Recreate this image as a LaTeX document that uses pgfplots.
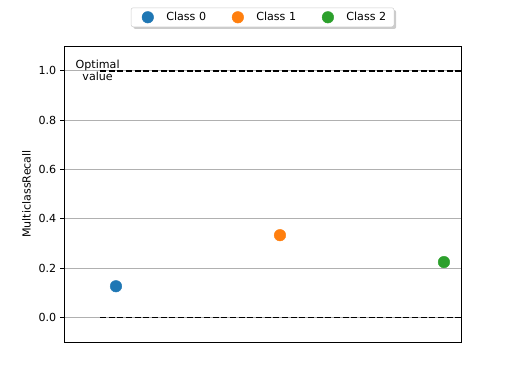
\documentclass[border=0pt]{standalone}
\usepackage{pgfplots}
\pgfplotsset{compat=1.18}
\usepackage{fontspec}
\setmainfont{DejaVu Sans}
\usetikzlibrary{shadows}
\definecolor{tabblue}{HTML}{1F77B4}
\definecolor{taborange}{HTML}{FF7F0E}
\definecolor{tabgreen}{HTML}{2CA02C}
\definecolor{gridgray}{HTML}{B0B0B0}
\begin{document}
\begin{tikzpicture}
\begin{axis}[
  scale only axis,
  width=357.3pt, height=266.4pt,
  xmin=-0.317, xmax=2.104,
  ymin=-0.1, ymax=1.1,
  xtick=\empty,
  ytick={0,0.2,0.4,0.6,0.8,1.0},
  ytick pos=left,
  yticklabel style={/pgf/number format/.cd, fixed, fixed zerofill, precision=1, assume math mode=true},
  tick label style={font=\fontsize{10}{12}\selectfont},
  tick align=outside,
  major tick length=3.5pt,
  ytick style={black, line width=0.7pt},
  ymajorgrids,
  grid style={gridgray, line width=0.7pt},
  axis line style={line width=0.7pt},
  ylabel={MulticlassRecall},
  ylabel style={font=\fontsize{10}{12}\selectfont},
  legend columns=3,
  legend style={at={(0.5,1)}, anchor=south, yshift=17.1pt,
    draw=gray!40, rounded corners=2pt, fill=white,
    drop shadow={shadow xshift=2pt, shadow yshift=-2pt, fill=gray!80},
    font=\fontsize{10}{12}\selectfont,
    /tikz/every odd column/.append style={column sep=4.5pt},
    /tikz/every even column/.append style={column sep=16.5pt},
    inner xsep=5pt, inner ysep=2pt},
  legend image code/.code={\path (0pt,0pt) (19.8pt,0pt); \draw[#1] plot coordinates {(9.9pt,0pt)};},
]
\addplot[only marks, mark=*, mark size=5.2pt, color=tabblue] coordinates {(0,0.126)};
\addlegendentry{Class 0}
\addplot[only marks, mark=*, mark size=5.2pt, color=taborange] coordinates {(1,0.333)};
\addlegendentry{Class 1}
\addplot[only marks, mark=*, mark size=5.2pt, color=tabgreen] coordinates {(2,0.224)};
\addlegendentry{Class 2}
\addplot[black, line width=1.5pt, dash pattern=on 5.4pt off 2.4pt, forget plot] coordinates {(-0.0976,1) (2.104,1)};
\addplot[black, line width=1.5pt, dash pattern=on 5.4pt off 2.4pt, forget plot] coordinates {(-0.0976,0) (2.104,0)};
\node[align=center, font=\fontsize{10}{10.8}\selectfont, inner sep=0pt] at (axis cs:-0.112,1.0) {Optimal\\value};
\end{axis}
\path (current axis.south west) ++(-57.6pt,-37.8pt) coordinate (bl);
\path (current axis.north east) ++(45.9pt,41.4pt) coordinate (tr);
\path (bl) rectangle (tr);
\end{tikzpicture}
\end{document}
